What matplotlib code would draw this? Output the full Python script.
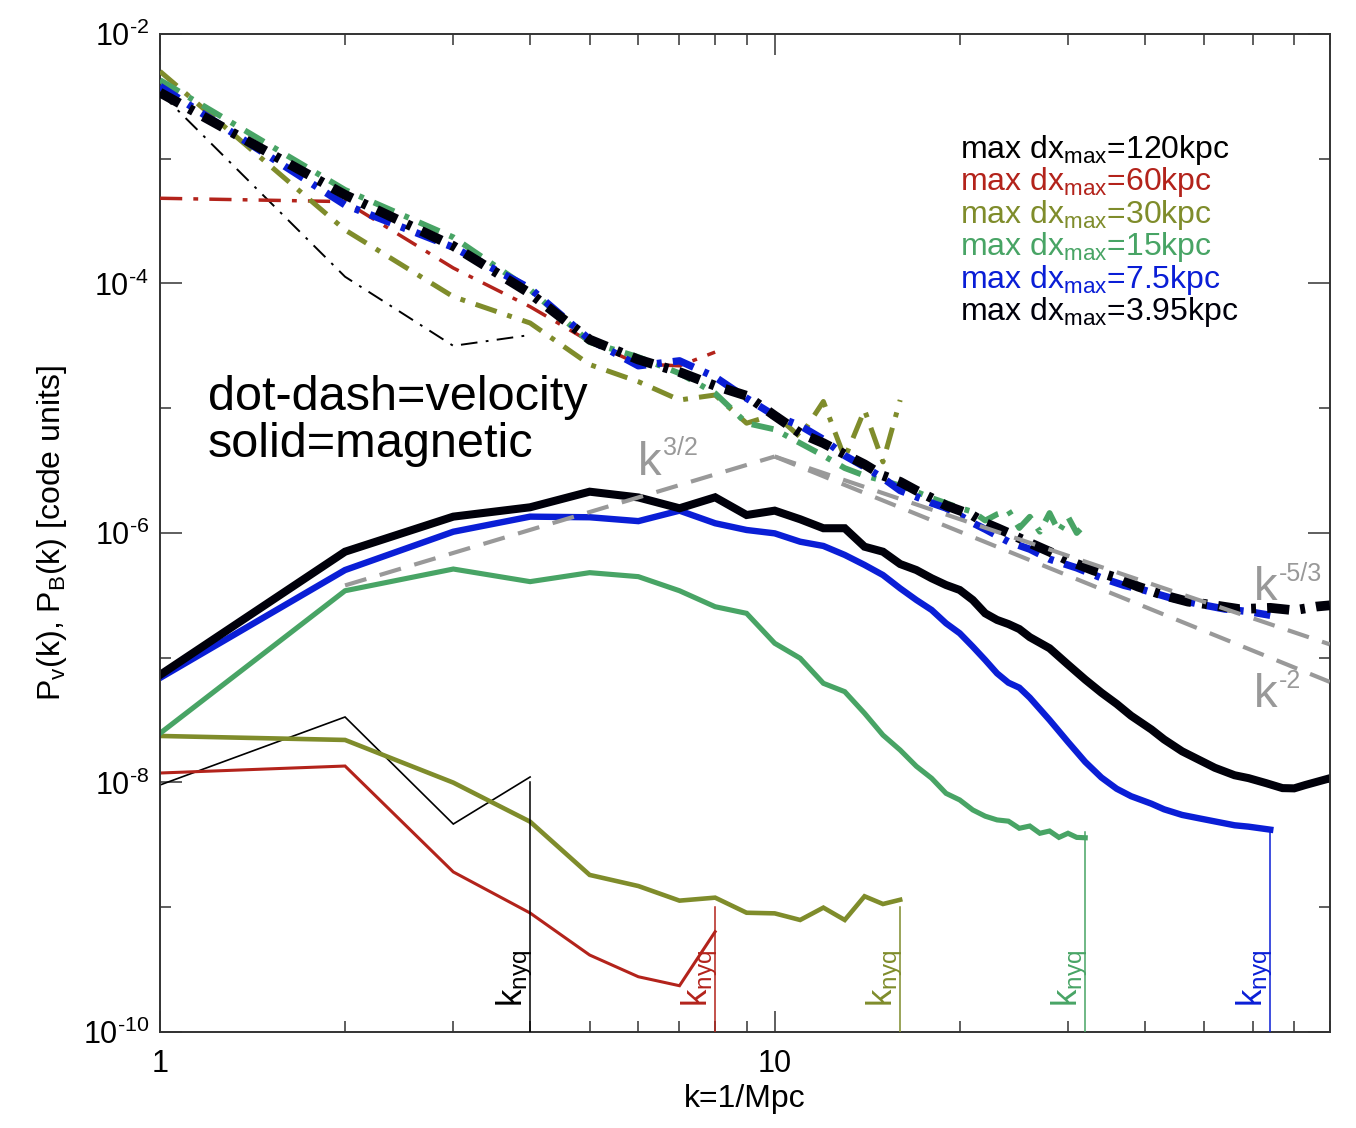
import numpy as np
import matplotlib
matplotlib.use("Agg")
import matplotlib.pyplot as plt
from matplotlib.ticker import NullFormatter

plt.rcParams['font.family'] = ['Liberation Sans', 'DejaVu Sans']
plt.rcParams['mathtext.fontset'] = 'custom'
plt.rcParams['mathtext.rm'] = 'Liberation Sans'
plt.rcParams['mathtext.it'] = 'Liberation Sans:italic'
plt.rcParams['mathtext.default'] = 'regular'
plt.rcParams['lines.scale_dashes'] = False

# run labels and colours
runs = ['120kpc', '60kpc', '30kpc', '15kpc', '7.5kpc', '3.95kpc']
colors = ['#000000', '#B3231B', '#7F8C2B', '#48A465', '#0A1ED6', '#00000A']
k_nyq = [4, 8, 16, 32, 64]
nyq_top = [1.0e-8, 1.0e-9, 1.0e-9, 4.0e-9, 4.2e-9]

# magnetic spectra, log10 P_B
k_120 = [1, 2, 3, 4]
logB_120 = [-8.02, -7.475, -8.333, -7.956]
k_60 = [1, 2, 3, 4, 5, 6, 7, 8]
logB_60 = [-7.924, -7.868, -8.717, -9.046, -9.383, -9.557, -9.629, -9.196]
k_30 = list(range(1, 17))
logB_30 = [-7.627, -7.659, -8.001, -8.314, -8.741, -8.83, -8.947, -8.923,
           -9.044, -9.049, -9.102, -9.003, -9.102, -8.912, -8.974, -8.94]
k_15 = list(range(1, 33))
logB_15 = [-7.606, -6.463, -6.289, -6.390, -6.318, -6.350, -6.463, -6.591,
           -6.644, -6.884, -7.004, -7.205, -7.272, -7.445, -7.620, -7.740,
           -7.870, -7.966, -8.087, -8.140, -8.220, -8.270, -8.300, -8.310,
           -8.367, -8.349, -8.407, -8.389, -8.440, -8.407, -8.440, -8.443]
k_75 = list(range(1, 25)) + [25, 26, 28, 30, 32, 34, 36, 38, 41, 43, 46, 49,
                              52, 56, 59, 64]
logB_75 = [-7.162, -6.297, -5.990, -5.869, -5.874, -5.905, -5.821, -5.922,
           -5.976, -6.003, -6.070, -6.104, -6.176, -6.256, -6.337, -6.444,
           -6.537, -6.617, -6.724, -6.804, -6.911, -7.018, -7.125, -7.200,
           -7.240, -7.320, -7.499, -7.675, -7.835, -7.960, -8.050, -8.110,
           -8.170, -8.215, -8.260, -8.287, -8.312, -8.343, -8.354, -8.378]
k_395 = list(range(1, 25)) + [25, 26, 28, 30, 32, 34, 36, 38, 41, 43, 46, 49,
                               52, 56, 59, 63, 67, 70, 73, 80]
logB_395 = [-7.138, -6.150, -5.869, -5.794, -5.669, -5.715, -5.802, -5.714,
            -5.856, -5.821, -5.890, -5.962, -5.962, -6.110, -6.150, -6.249,
            -6.297, -6.363, -6.417, -6.457, -6.537, -6.644, -6.697, -6.730,
            -6.770, -6.835, -6.924, -7.055, -7.175, -7.280, -7.370, -7.465,
            -7.575, -7.655, -7.750, -7.818, -7.882, -7.942, -7.965, -8.005,
            -8.045, -8.047, -8.020, -7.966]

# velocity spectra, log10 P_v
logV_120 = [-2.47, -3.946, -4.50, -4.413]
logV_60 = [-3.317, -3.344, -3.876, -4.186, -4.466, -4.645, -4.66, -4.55]
logV_30 = [-2.30, -3.571, -4.106, -4.317, -4.65, -4.787, -4.934, -4.894,
           -5.12, -5.05, -5.23, -4.946, -5.40, -5.014, -5.43, -4.934]
logV_15 = [-2.37, -3.25, -3.63, -4.05, -4.47, -4.59, -4.72, -4.88,
           -5.12, -5.17, -5.28, -5.38, -5.48, -5.54, -5.58, -5.62,
           -5.67, -5.72, -5.76, -5.80, -5.83, -5.90, -5.85, -5.82,
           -5.96, -5.87, -5.99, -5.84, -5.99, -5.87, -6.00, -5.93]
kv_75 = list(range(1, 23)) + [24, 26, 28, 31, 34, 37, 40, 44, 49, 54, 59, 64]
logV_75 = [-2.42, -3.37, -3.71, -4.04, -4.45, -4.66, -4.62, -4.75,
           -4.92, -5.06, -5.14, -5.25, -5.38, -5.47, -5.56, -5.66,
           -5.71, -5.76, -5.80, -5.86, -5.92, -5.97, -6.07, -6.13,
           -6.21, -6.28, -6.36, -6.42, -6.46, -6.52, -6.57, -6.61,
           -6.63, -6.66]
kv_395 = list(range(1, 25)) + [26, 28, 30, 33, 36, 39, 43, 47, 52, 57, 64,
                                70, 76, 80]
logV_395 = [-2.47, -3.29, -3.70, -4.08, -4.45, -4.61, -4.71, -4.82,
            -4.90, -5.06, -5.20, -5.28, -5.37, -5.45, -5.54, -5.59,
            -5.66, -5.72, -5.78, -5.82, -5.86, -5.92, -5.96, -6.00,
            -6.08, -6.15, -6.22, -6.30, -6.36, -6.43, -6.50, -6.55,
            -6.58, -6.61, -6.60, -6.62, -6.59, -6.58]

# reference power laws (end points)
k_32 = [2, 10]
P_32 = [3.8e-7, 4.1e-6]
k_53 = [10, 80]
P_53 = [4.1e-6, 1.28e-7]
k_2 = [10, 80]
P_2 = [4.1e-6, 6.4e-8]

# slope labels: position of the "k", exponent text
slope_pos = [(6.0, 2.92e-6), (60.3, 2.9e-7), (60.3, 4.03e-8)]
slope_exp = ['3/2', '-5/3', '-2']

k_sets = [k_120, k_60, k_30, k_15, k_75, k_395]
kv_sets = [k_120, k_60, k_30, k_15, kv_75, kv_395]
logB_sets = [logB_120, logB_60, logB_30, logB_15, logB_75, logB_395]
logV_sets = [logV_120, logV_60, logV_30, logV_15, logV_75, logV_395]
lws = [1.2, 2.2, 3.3, 3.7, 4.6, 5.8]
lwv = [1.4, 2.5, 3.6, 4.2, 5.3, 7.0]

fig = plt.figure(figsize=(13.56, 11.28), dpi=100)
ax = fig.add_axes([0.118, 0.0851, 0.8627, 0.8848])
ax.set_xscale('log')
ax.set_yscale('log')

for i in range(6):
    ax.plot(k_sets[i], 10 ** np.array(logB_sets[i]), color=colors[i],
            lw=lws[i], solid_joinstyle='miter', zorder=2 + i * 0.1)
for i in range(6):
    if i == 0:
        dash = (12, 6, 2, 6)
    else:
        dash = (16, 8, 3.5, 8)
    ax.plot(kv_sets[i], 10 ** np.array(logV_sets[i]), color=colors[i],
            lw=lwv[i], dashes=dash, dash_capstyle='butt', zorder=3 + i * 0.1)

gray = '#999999'
for kk, pp in [(k_32, P_32), (k_53, P_53), (k_2, P_2)]:
    ax.plot(kk, pp, color=gray, lw=3, dashes=(16, 10), zorder=5)

for i in range(5):
    ax.plot([k_nyq[i], k_nyq[i]], [1e-10, nyq_top[i]], color=colors[i],
            lw=1.1, zorder=4)
    ax.annotate('k$_{nyq}$', xy=(k_nyq[i], 1e-10), xytext=(-11, 18),
                textcoords='offset points', rotation=90, ha='center',
                va='bottom', color=colors[i], fontsize=25)

for (xk, yk), ex in zip(slope_pos, slope_exp):
    ax.text(xk, yk, 'k', color=gray, fontsize=34, ha='left', va='baseline')
    ax.annotate(ex, xy=(xk, yk), xytext=(18, 14), textcoords='offset points',
                color=gray, fontsize=18, ha='left', va='baseline')

for i in range(6):
    ax.text(0.6838, 0.8758 - i * 0.03247,
            'max dx$_{max}$=' + runs[i], color=colors[i], fontsize=23,
            transform=ax.transAxes, ha='left', va='baseline')

ax.text(0.041, 0.6232, 'dot-dash=velocity', fontsize=35,
        transform=ax.transAxes, va='baseline')
ax.text(0.041, 0.5762, 'solid=magnetic', fontsize=35,
        transform=ax.transAxes, va='baseline')

ax.set_xlim(1, 80)
ax.set_ylim(1e-10, 1e-2)
ax.set_xticks([1, 10])
ax.set_xticklabels(['1', '10'])
ax.set_xticks([2, 3, 4, 5, 6, 7, 8, 9, 20, 30, 40, 50, 60, 70, 80],
              minor=True)
ax.xaxis.set_minor_formatter(NullFormatter())
ax.set_yticks([1e-10, 1e-8, 1e-6, 1e-4, 1e-2])
ax.set_yticklabels(['10$^{\\text{-10}}$', '10$^{\\text{-8}}$',
                    '10$^{\\text{-6}}$', '10$^{\\text{-4}}$',
                    '10$^{\\text{-2}}$'])
ax.set_yticks([1e-9, 1e-7, 1e-5, 1e-3], minor=True)
ax.yaxis.set_minor_formatter(NullFormatter())
ax.tick_params(which='both', direction='in', top=True, right=True,
               labelsize=22, width=1.1, color='#333333')
ax.tick_params(axis='x', which='major', length=15, pad=12)
ax.tick_params(axis='y', which='major', length=16, pad=8)
ax.tick_params(which='minor', length=8)
for s in ax.spines.values():
    s.set_linewidth(1.4)
    s.set_color('#333333')

ax.set_xlabel('k=1/Mpc', fontsize=23, labelpad=4)
ax.set_ylabel('P$_v$(k), P$_B$(k) [code units]', fontsize=23, labelpad=10)

fig.savefig('out.png', dpi=100)
